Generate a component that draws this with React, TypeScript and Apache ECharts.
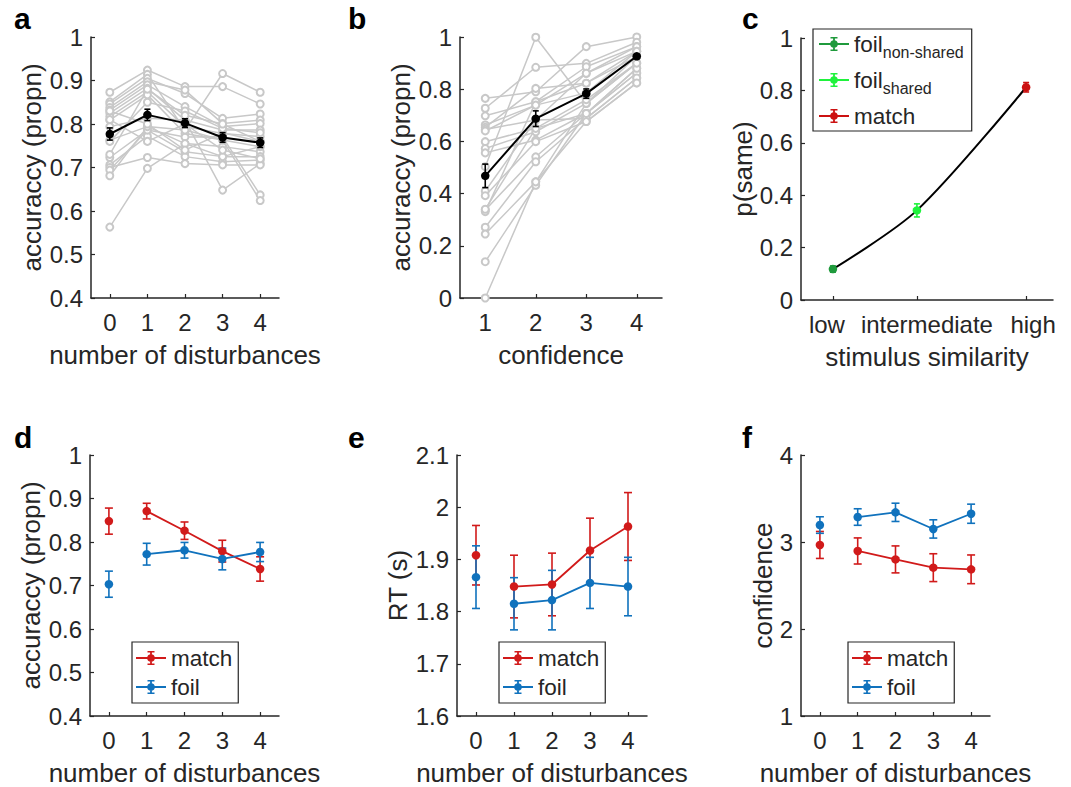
import React, { useEffect, useRef } from 'react';
import * as echarts from 'echarts';

const FONT = '"Liberation Sans", Arial, Helvetica, sans-serif';
const TXT = '#262626';
const GRAY = '#c8c8c8';
const RED = '#d11a1a';
const BLUE = '#1072bd';
const DKGREEN = '#1f9a3c';
const LTGREEN = '#1ff23c';
const CRED = '#cc1111';

// ---------- panel a ----------
const disturbances = [0, 1, 2, 3, 4];
const aSubjects = [
  [0.873, 0.924, 0.886, 0.886, 0.846],
  [0.851, 0.914, 0.786, 0.916, 0.873],
  [0.846, 0.905, 0.870, 0.813, 0.823],
  [0.838, 0.897, 0.878, 0.801, 0.809],
  [0.832, 0.890, 0.840, 0.794, 0.801],
  [0.825, 0.882, 0.809, 0.786, 0.786],
  [0.817, 0.874, 0.794, 0.778, 0.771],
  [0.809, 0.867, 0.778, 0.763, 0.748],
  [0.794, 0.813, 0.809, 0.648, 0.709],
  [0.763, 0.794, 0.755, 0.748, 0.736],
  [0.723, 0.786, 0.736, 0.725, 0.725],
  [0.706, 0.772, 0.725, 0.713, 0.717],
  [0.700, 0.723, 0.709, 0.706, 0.706],
  [0.694, 0.786, 0.770, 0.770, 0.637],
  [0.681, 0.794, 0.786, 0.763, 0.624],
  [0.563, 0.698, 0.755, 0.725, 0.748],
  [0.830, 0.800, 0.740, 0.780, 0.760],
  [0.810, 0.760, 0.800, 0.740, 0.720],
  [0.760, 0.850, 0.830, 0.790, 0.780],
  [0.730, 0.880, 0.820, 0.800, 0.760],
];
const aMean = [0.777, 0.821, 0.802, 0.769, 0.757];
const aSem = [0.014, 0.013, 0.010, 0.011, 0.011];

// ---------- panel b ----------
const confidenceLevels = [1, 2, 3, 4];
const bSubjects = [
  [0.765, 0.790, 0.963, 1.000],
  [0.727, 0.884, 0.899, 0.980],
  [0.503, 0.999, 0.746, 0.900],
  [0.698, 0.752, 0.886, 0.963],
  [0.663, 0.739, 0.861, 0.945],
  [0.654, 0.803, 0.823, 0.926],
  [0.646, 0.682, 0.861, 0.963],
  [0.599, 0.650, 0.707, 0.880],
  [0.573, 0.637, 0.746, 0.900],
  [0.556, 0.605, 0.707, 0.862],
  [0.410, 0.682, 0.688, 0.843],
  [0.392, 0.599, 0.676, 0.824],
  [0.337, 0.541, 0.707, 0.862],
  [0.331, 0.752, 0.823, 0.945],
  [0.271, 0.522, 0.688, 0.843],
  [0.245, 0.445, 0.676, 0.824],
  [0.139, 0.432, 0.707, 0.880],
  [0.000, 0.445, 0.746, 0.926],
  [0.640, 0.739, 0.786, 0.945],
  [0.340, 0.650, 0.760, 0.900],
];
const bMean = [0.468, 0.687, 0.783, 0.926];
const bSem = [0.045, 0.030, 0.018, 0.008];

// ---------- panel c ----------
const simLabels = ['low', 'intermediate', 'high'];
const simX = [1, 2, 3.3];
const cNames = ['foilNonShared', 'foilShared', 'matchC'];
const cColors = [DKGREEN, LTGREEN, CRED];
const cMean = [0.118, 0.342, 0.812];
const cSem = [0.012, 0.025, 0.018];

// ---------- panel d ----------
const dMatch = [0.848, 0.871, 0.826, 0.779, 0.738];
const dMatchSem = [0.030, 0.018, 0.020, 0.025, 0.028];
const dFoil = [0.703, 0.772, 0.781, 0.761, 0.777];
const dFoilSem = [0.030, 0.025, 0.018, 0.025, 0.022];

// ---------- panel e ----------
const eMatch = [1.908, 1.848, 1.852, 1.917, 1.963];
const eMatchSem = [0.057, 0.060, 0.060, 0.062, 0.065];
const eFoil = [1.866, 1.815, 1.822, 1.855, 1.848];
const eFoilSem = [0.060, 0.050, 0.057, 0.049, 0.056];

// ---------- panel f ----------
const fMatch = [2.966, 2.897, 2.800, 2.705, 2.686];
const fMatchSem = [0.155, 0.150, 0.155, 0.160, 0.165];
const fFoil = [3.195, 3.287, 3.341, 3.150, 3.325];
const fFoilSem = [0.095, 0.095, 0.105, 0.105, 0.110];

const ERR_ICON =
  'path://M0 6.1H30V7.9H0Z M14.1 0H15.9V14H14.1Z M11.5 0H18.5V1.6H11.5Z M11.5 12.4H18.5V14H11.5Z M18.8 7A3.8 3.8 0 1 1 11.2 7A3.8 3.8 0 1 1 18.8 7Z';

function errSeries(idx: number, xs: number[], means: number[], sems: number[], color: string, capW: number, lw: number) {
  return {
    type: 'custom',
    xAxisIndex: idx,
    yAxisIndex: idx,
    z: 2,
    silent: true,
    data: xs.map((x, i) => [x, means[i] - sems[i], means[i] + sems[i]]),
    encode: { x: 0, y: [1, 2] },
    renderItem: (_p: any, api: any) => {
      const x = api.value(0);
      const lo = api.coord([x, api.value(1)]);
      const hi = api.coord([x, api.value(2)]);
      const st = { stroke: color, lineWidth: lw, fill: 'none' };
      return {
        type: 'group',
        children: [
          { type: 'line', shape: { x1: lo[0], y1: lo[1], x2: hi[0], y2: hi[1] }, style: st },
          { type: 'line', shape: { x1: hi[0] - capW, y1: hi[1], x2: hi[0] + capW, y2: hi[1] }, style: st },
          { type: 'line', shape: { x1: lo[0] - capW, y1: lo[1], x2: lo[0] + capW, y2: lo[1] }, style: st },
        ],
      };
    },
  };
}

function lineSeries(idx: number, name: string | undefined, xs: number[], ys: number[], color: string, extra: any = {}) {
  return {
    type: 'line',
    name,
    xAxisIndex: idx,
    yAxisIndex: idx,
    data: xs.map((x, i) => [x, ys[i]]),
    symbol: 'circle',
    symbolSize: 8.5,
    lineStyle: { color, width: 1.8 },
    itemStyle: { color },
    z: 3,
    silent: true,
    ...extra,
  };
}

const axisBase = {
  nameLocation: 'middle',
  axisLine: { show: true, onZero: false, lineStyle: { color: TXT, width: 1.5 } },
  axisTick: { show: true, inside: true, length: 4, lineStyle: { color: TXT, width: 1.2 } },
  splitLine: { show: false },
  nameTextStyle: { color: TXT, fontSize: 26, fontFamily: FONT },
};

const fmt = (v: number) => String(Math.round(v * 10) / 10);

function xDist(idx: number, name: string) {
  return {
    ...axisBase,
    type: 'value',
    gridIndex: idx,
    min: -0.5,
    max: 4.5,
    name,
    nameGap: 44,
    axisTick: { ...axisBase.axisTick, customValues: disturbances },
    axisLabel: { color: TXT, fontSize: 24, fontFamily: FONT, margin: 12, customValues: disturbances, formatter: (v: number) => String(v) },
  };
}

function yAx(idx: number, name: string, min: number, max: number, interval: number, nameGap: number) {
  return {
    ...axisBase,
    type: 'value',
    gridIndex: idx,
    min,
    max,
    interval,
    name,
    nameGap,
    axisLabel: { color: TXT, fontSize: 24, fontFamily: FONT, margin: 8, formatter: fmt },
  };
}

function legendBox(left: number, top: number, names: string[], extra: any = {}) {
  return {
    data: names,
    orient: 'vertical',
    left,
    top,
    selectedMode: false,
    icon: ERR_ICON,
    itemWidth: 30,
    itemHeight: 14,
    itemGap: 3,
    padding: [3, 6, 3, 4],
    borderColor: TXT,
    borderWidth: 1.2,
    borderRadius: 0,
    itemStyle: { borderWidth: 0 },
    textStyle: { color: TXT, fontSize: 22.5, fontFamily: FONT, lineHeight: 26 },
    ...extra,
  };
}

export default function App() {
  const ref = useRef<HTMLDivElement>(null);
  useEffect(() => {
    if (!ref.current) return;
    const chart = echarts.init(ref.current, undefined, { renderer: 'svg' });

    const series: any[] = [];
    // a
    aSubjects.forEach((s) =>
      series.push(
        lineSeries(0, undefined, disturbances, s, GRAY, {
          symbol: 'emptyCircle',
          symbolSize: 7,
          z: 1,
          lineStyle: { color: GRAY, width: 1.5 },
          itemStyle: { color: GRAY, borderColor: GRAY, borderWidth: 1.2 },
        })
      )
    );
    series.push(errSeries(0, disturbances, aMean, aSem, '#000', 3, 1.6));
    series.push(lineSeries(0, undefined, disturbances, aMean, '#000', { z: 4, lineStyle: { color: '#000', width: 2 } }));
    // b
    bSubjects.forEach((s) =>
      series.push(
        lineSeries(1, undefined, confidenceLevels, s, GRAY, {
          symbol: 'emptyCircle',
          symbolSize: 7,
          z: 1,
          lineStyle: { color: GRAY, width: 1.5 },
          itemStyle: { color: GRAY, borderColor: GRAY, borderWidth: 1.2 },
        })
      )
    );
    series.push(errSeries(1, confidenceLevels, bMean, bSem, '#000', 3, 1.6));
    series.push(lineSeries(1, undefined, confidenceLevels, bMean, '#000', { z: 4, lineStyle: { color: '#000', width: 2 } }));
    // c
    series.push(lineSeries(2, undefined, simX, cMean, '#000', { symbol: 'none', smooth: 0.3, z: 1, lineStyle: { color: '#000', width: 2 } }));
    cNames.forEach((n, i) => {
      series.push(errSeries(2, [simX[i]], [cMean[i]], [cSem[i]], cColors[i], 3, 1.6));
      series.push(lineSeries(2, n, [simX[i]], [cMean[i]], cColors[i], { z: 4 }));
    });
    // d, e, f
    const groups: [number, number[], number[], number[], number[]][] = [
      [3, dMatch, dMatchSem, dFoil, dFoilSem],
      [4, eMatch, eMatchSem, eFoil, eFoilSem],
      [5, fMatch, fMatchSem, fFoil, fFoilSem],
    ];
    groups.forEach(([idx, m, ms, f, fs]) => {
      series.push(errSeries(idx, disturbances, m, ms, RED, 4, 1.6));
      series.push(errSeries(idx, disturbances, f, fs, BLUE, 4, 1.6));
      series.push(lineSeries(idx, 'match', disturbances.slice(1), m.slice(1), RED));
      series.push(lineSeries(idx, 'foil', disturbances.slice(1), f.slice(1), BLUE));
      series.push(lineSeries(idx, undefined, [disturbances[0]], [m[0]], RED));
      series.push(lineSeries(idx, undefined, [disturbances[0]], [f[0]], BLUE));
    });

    const cLabelRich = {
      l: { padding: [0, 12, 0, 0] },
      i: { padding: [0, 0, 0, 20] },
      h: { padding: [0, 0, 0, 14] },
    };

    const option: any = {
      animation: false,
      backgroundColor: '#ffffff',
      textStyle: { fontFamily: FONT },
      grid: [
        { left: 91, top: 37, width: 188, height: 261 },
        { left: 460, top: 37, width: 202, height: 261 },
        { left: 801, top: 38, width: 252, height: 262 },
        { left: 90, top: 455, width: 189, height: 261 },
        { left: 457, top: 455, width: 190, height: 261 },
        { left: 801, top: 455, width: 189, height: 261 },
      ],
      xAxis: [
        xDist(0, 'number of disturbances'),
        {
          ...axisBase,
          type: 'value',
          gridIndex: 1,
          min: 0.5,
          max: 4.5,
          name: 'confidence',
          nameGap: 44,
          axisTick: { ...axisBase.axisTick, customValues: confidenceLevels },
          axisLabel: { color: TXT, fontSize: 24, fontFamily: FONT, margin: 12, customValues: confidenceLevels, formatter: (v: number) => String(v) },
        },
        {
          ...axisBase,
          type: 'value',
          gridIndex: 2,
          min: 0.62,
          max: 3.62,
          name: 'stimulus similarity',
          nameGap: 44,
          axisTick: { ...axisBase.axisTick, customValues: simX },
          axisLabel: {
            color: TXT,
            fontSize: 24,
            fontFamily: FONT,
            margin: 12,
            customValues: simX,
            rich: cLabelRich,
            formatter: (v: number) => {
              const i = simX.findIndex((s) => Math.abs(s - v) < 1e-6);
              const key = ['l', 'i', 'h'][i];
              return `{${key}|${simLabels[i]}}`;
            },
          },
        },
        xDist(3, 'number of disturbances'),
        xDist(4, 'number of disturbances'),
        xDist(5, 'number of disturbances'),
      ],
      yAxis: [
        yAx(0, 'accuraccy (propn)', 0.4, 1, 0.1, 46),
        yAx(1, 'accuraccy (propn)', 0, 1, 0.2, 46),
        yAx(2, 'p(same)', 0, 1, 0.2, 34),
        yAx(3, 'accuraccy (propn)', 0.4, 1, 0.1, 46),
        yAx(4, 'RT (s)', 1.6, 2.1, 0.1, 46),
        yAx(5, 'confidence', 1, 4, 1, 20),
      ],
      legend: [
        legendBox(132, 642, ['match', 'foil']),
        legendBox(499, 642, ['match', 'foil']),
        legendBox(848, 642, ['match', 'foil']),
        legendBox(813, 29, cNames, {
          itemGap: 6,
          padding: [1, 8, 1, 6],
          formatter: (n: string) =>
            n === 'foilNonShared' ? '{a|foil}{s|non-shared}' : n === 'foilShared' ? '{a|foil}{s|shared}' : '{a|match}',
          textStyle: {
            color: TXT,
            fontFamily: FONT,
            fontSize: 22.5,
            lineHeight: 28,
            rich: {
              a: { fontSize: 22.5, lineHeight: 28, height: 28, color: TXT, fontFamily: FONT },
              s: { fontSize: 16, lineHeight: 12, height: 12, verticalAlign: 'bottom', color: TXT, fontFamily: FONT },
            },
          },
        }),
      ],
      graphic: [
        ['a', 14, 18.5],
        ['b', 348, 18.5],
        ['c', 742, 18.5],
        ['d', 14, 437],
        ['e', 348, 437],
        ['f', 742, 437],
      ].map(([t, x, y]) => ({
        type: 'text',
        x,
        y,
        style: { text: t, fontSize: 30, fontWeight: 'bold', fill: '#000', fontFamily: FONT, verticalAlign: 'middle' },
      })),
      series,
    };
    chart.setOption(option);
    return () => chart.dispose();
  }, []);
  return <div ref={ref} style={{ position: 'absolute', left: 0, top: 0, width: 1071, height: 787 }} />;
}
